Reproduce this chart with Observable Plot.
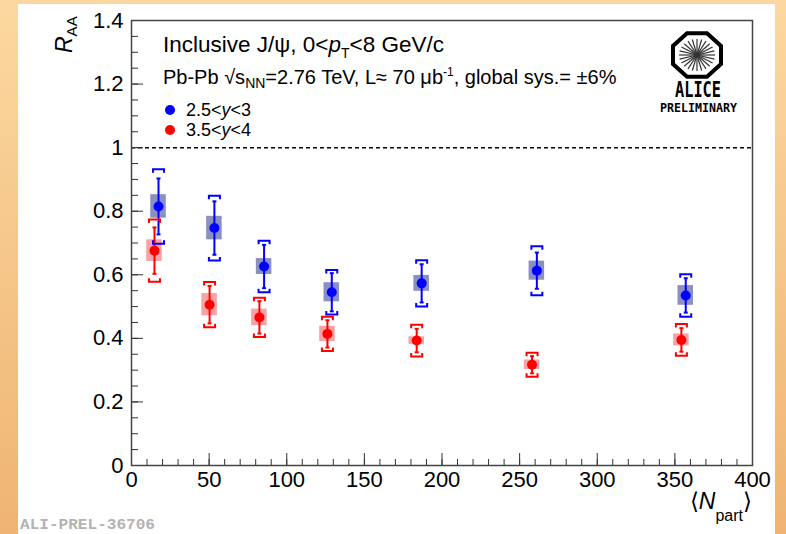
<!DOCTYPE html>
<html><head><meta charset="utf-8">
<script src="https://cdn.jsdelivr.net/npm/d3@7"></script>
<script src="https://cdn.jsdelivr.net/npm/@observablehq/plot@0.6"></script>
<style>
html,body{margin:0;padding:0;}
body{width:786px;height:534px;background:linear-gradient(#fcd8a0,#efb473);position:relative;overflow:hidden;font-family:"Liberation Sans",Arial,sans-serif;}
#panel{position:absolute;left:18px;top:4px;width:757px;height:530px;background:#fff;}
#chart{position:absolute;left:0;top:0;}
</style></head><body><div id="panel"></div><div id="chart"></div>
<script>
// ---- data ----
const npartBlue = [17.4, 53.4, 85.4, 129.0, 186.9, 261.1, 357.0];
const raaBlue   = [0.815, 0.747, 0.626, 0.545, 0.573, 0.613, 0.535];
const statBlue  = [0.088, 0.084, 0.068, 0.060, 0.060, 0.057, 0.054];
const sysBlue   = [0.117, 0.102, 0.081, 0.070, 0.073, 0.077, 0.067];
const corrBlue  = [0.037, 0.037, 0.025, 0.030, 0.025, 0.030, 0.031];

const npartRed = [14.8, 50.3, 82.4, 126.2, 183.7, 258.0, 354.2];
const raaRed   = [0.676, 0.506, 0.466, 0.414, 0.393, 0.317, 0.395];
const statRed  = [0.073, 0.059, 0.051, 0.043, 0.037, 0.027, 0.037];
const sysRed   = [0.098, 0.071, 0.062, 0.054, 0.050, 0.038, 0.050];
const corrRed  = [0.034, 0.035, 0.026, 0.024, 0.012, 0.015, 0.019];

const seriesNames = ["2.5<y<3", "3.5<y<4"];
const xMajor = [0, 50, 100, 150, 200, 250, 300, 350, 400];
const xMinor = d3.range(0, 401, 10);
const yMajor = [0, 0.2, 0.4, 0.6, 0.8, 1, 1.2, 1.4];
const yLabels = ["0", "0.2", "0.4", "0.6", "0.8", "1", "1.2", "1.4"];
const yMinor = d3.range(0, 28.5, 1).map(i => i * 0.05);

// ---- build rows ----
function rowsOf(name, color, boxFill, n, v, st, sy, co) {
  return n.map((x, i) => ({name, color, boxFill, n: x, v: v[i], st: st[i], sy: sy[i], co: co[i]}));
}
const rows = [
  ...rowsOf(seriesNames[0], "#0000ff", "#8a8fc4", npartBlue, raaBlue, statBlue, sysBlue, corrBlue),
  ...rowsOf(seriesNames[1], "#ff0000", "#f8a3a3", npartRed, raaRed, statRed, sysRed, corrRed)
];

const W = 786, H = 534, ML = 131, MR = 34, MT = 20, MB = 69;
const FW = W - ML - MR, FH = H - MT - MB;

const bracketTop = {draw(c) { c.moveTo(-5.5, 3.5); c.lineTo(-5.5, 0); c.lineTo(5.5, 0); c.lineTo(5.5, 3.5); }};
const bracketBot = {draw(c) { c.moveTo(-5.5, -3.5); c.lineTo(-5.5, 0); c.lineTo(5.5, 0); c.lineTo(5.5, -3.5); }};
const cap = {draw(c) { c.moveTo(-2, 0); c.lineTo(2, 0); }};

const plot = Plot.plot({
  width: W, height: H,
  marginLeft: ML, marginRight: MR, marginTop: MT, marginBottom: MB,
  style: {background: "transparent", fontFamily: "Liberation Sans, Arial, sans-serif"},
  x: {domain: [0, 400]},
  y: {domain: [0, 1.4]},
  marks: [
    Plot.ruleY([1], {y: d => d, stroke: "#000", strokeWidth: 1.5, strokeDasharray: "4,3"}),
    Plot.rect(rows, {x1: d => d.n - 5, x2: d => d.n + 5, y1: d => d.v - d.co, y2: d => d.v + d.co, fill: "boxFill"}),
    Plot.ruleX(rows, {x: "n", y1: d => d.v - d.st, y2: d => d.v + d.st, stroke: "color", strokeWidth: 2}),
    Plot.dot(rows, {x: "n", y: d => d.v + d.st, symbol: cap, fill: "none", stroke: "color", strokeWidth: 2}),
    Plot.dot(rows, {x: "n", y: d => d.v - d.st, symbol: cap, fill: "none", stroke: "color", strokeWidth: 2}),
    Plot.dot(rows, {x: "n", y: d => d.v + d.sy, symbol: bracketTop, fill: "none", stroke: "color", strokeWidth: 2}),
    Plot.dot(rows, {x: "n", y: d => d.v - d.sy, symbol: bracketBot, fill: "none", stroke: "color", strokeWidth: 2}),
    Plot.dot(rows, {x: "n", y: "v", r: 5, fill: "color", stroke: "none"}),
    Plot.tickY(yMinor, {y: d => d, insetRight: FW - 7, stroke: "#333"}),
    Plot.tickY(yMajor, {y: d => d, insetRight: FW - 12, stroke: "#333"}),
    Plot.tickX(xMinor, {x: d => d, insetTop: FH - 6, stroke: "#333"}),
    Plot.tickX(xMajor, {x: d => d, insetTop: FH - 12, stroke: "#333"}),
    Plot.axisY(yMajor, {tickSize: 0, tickPadding: 8, fontSize: 22, label: null, tickFormat: (d, i) => yLabels[i]}),
    Plot.axisX(xMajor, {tickSize: 0, tickPadding: 6, fontSize: 22, label: null, tickFormat: d => String(d)}),
    Plot.frame({stroke: "#444", strokeWidth: 1.5})
  ]
});
document.getElementById("chart").appendChild(plot);

// ---- annotations ----
const svg = d3.select(plot);
const FONT = "Liberation Sans, Arial, sans-serif";
function rich(x, y, parts, o = {}) {
  const t = svg.append("text").attr("x", x).attr("y", y)
    .attr("font-size", o.size || 17).attr("font-family", o.family || FONT).attr("fill", o.fill || "#000")
    .attr("text-anchor", o.anchor || "start");
  if (o.transform) t.attr("transform", o.transform);
  if (o.weight) t.attr("font-weight", o.weight);
  if (o.textLength) t.attr("textLength", o.textLength).attr("lengthAdjust", "spacingAndGlyphs");
  for (const p of parts) {
    const s = t.append("tspan").text(p.t);
    if (p.size) s.attr("font-size", p.size);
    if (p.italic) s.attr("font-style", "italic");
    if (p.dy) s.attr("dy", p.dy);
  }
  return t;
}
rich(163, 52, [{t: "Inclusive J/ψ, 0<"}, {t: "p", italic: true}, {t: "T", size: 14, dy: 6}, {t: "<8 GeV/c", dy: -6}], {size: 22.5});
rich(163, 84, [{t: "Pb-Pb √s"}, {t: "NN", size: 14, dy: 4}, {t: "=2.76 TeV, L≈ 70 μb", dy: -4}, {t: "-1", size: 12, dy: -8}, {t: ", global sys.= ±6%", dy: 8}], {size: 20});

// legend
[["#0000ff", 110, seriesNames[0]], ["#ff0000", 130, seriesNames[1]]].forEach(([c, y, name]) => {
  svg.append("circle").attr("cx", 170).attr("cy", y).attr("r", 5).attr("fill", c);
  const [a, b] = name.split("y");
  rich(186, y + 6, [{t: a}, {t: "y", italic: true}, {t: b}], {size: 18});
});

// axis titles
rich(0, 0, [{t: "R", italic: true}, {t: "AA", size: 15, dy: 5}], {size: 23, transform: "translate(72,53) rotate(-90)"});
rich(752, 509, [{t: "⟨", size: 23}, {t: "N", italic: true}, {t: "part", size: 16, dy: 12}, {t: "⟩", size: 23, dy: -12}], {size: 23, anchor: "end"});

// ALICE logo
const lg = svg.append("g").attr("transform", "translate(697,55)");
const oct = d3.range(8).map(i => { const a = Math.PI / 8 + i * Math.PI / 4; return [26 * Math.cos(a), 23.5 * Math.sin(a)]; });
lg.append("path").attr("d", "M" + oct.map(p => p.join(",")).join("L") + "Z").attr("fill", "none").attr("stroke", "#000").attr("stroke-width", 4);
d3.range(24).forEach(i => {
  const a = i * Math.PI / 12;
  lg.append("line").attr("x1", 0).attr("y1", 0).attr("x2", 18 * Math.cos(a)).attr("y2", 16 * Math.sin(a)).attr("stroke", "#333").attr("stroke-width", 1.2);
});
rich(675, 97, [{t: "ALICE"}], {size: 21, family: "DejaVu Sans Mono", weight: "bold", textLength: 46});
rich(660, 112, [{t: "PRELIMINARY"}], {size: 12, family: "DejaVu Sans Mono", weight: "bold", textLength: 77});

// footer id
rich(20, 529, [{t: "ALI-PREL-36706"}], {size: 15, family: "Liberation Mono", weight: "bold", fill: "#b3b3b3", textLength: 135});
</script>
</body></html>
